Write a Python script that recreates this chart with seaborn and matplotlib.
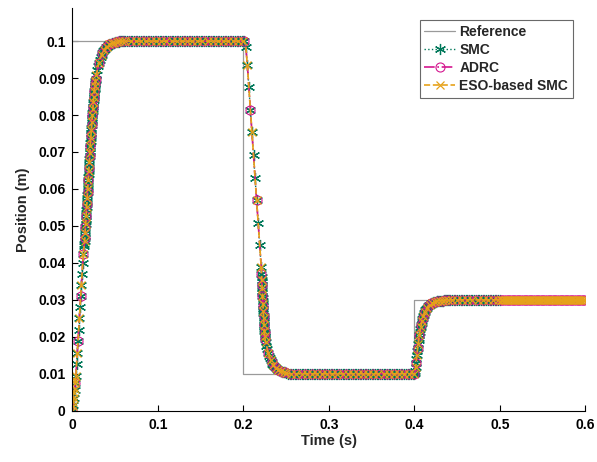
import numpy as np
import pandas as pd
import seaborn as sns
import matplotlib.pyplot as plt

# reference trajectory (s, m)
ref_t = [0.0, 0.2, 0.2, 0.4, 0.4, 0.6]
ref_y = [0.1, 0.1, 0.01, 0.01, 0.03, 0.03]

# closed-loop position
start_t = np.linspace(0.0, 0.0136, 18)
start_y = [0.0, 0.0015, 0.0035, 0.0055, 0.0075, 0.0095, 0.0126, 0.0157, 0.0188,
           0.0219, 0.0250, 0.0280, 0.0310, 0.0340, 0.0370, 0.0400, 0.0425, 0.0445]

rise_t = np.linspace(0.0140, 0.0272, 67)
rise_y = [0.0450, 0.0458, 0.0466, 0.0474, 0.0481, 0.0489, 0.0496, 0.0504, 0.0512,
          0.0520, 0.0528, 0.0536, 0.0544, 0.0552, 0.0560, 0.0568, 0.0576, 0.0584,
          0.0592, 0.0600, 0.0608, 0.0616, 0.0624, 0.0632, 0.0640, 0.0648, 0.0656,
          0.0664, 0.0672, 0.0680, 0.0688, 0.0696, 0.0703, 0.0710, 0.0717, 0.0724,
          0.0731, 0.0738, 0.0745, 0.0752, 0.0759, 0.0766, 0.0773, 0.0780, 0.0786,
          0.0793, 0.0799, 0.0805, 0.0811, 0.0817, 0.0823, 0.0829, 0.0834, 0.0840,
          0.0845, 0.0850, 0.0855, 0.0860, 0.0865, 0.0870, 0.0874, 0.0879, 0.0883,
          0.0887, 0.0891, 0.0895, 0.0898]

settle_t = np.linspace(0.028, 0.060, 33)
settle_y = [0.0907, 0.0921, 0.0932, 0.0942, 0.0950, 0.0957, 0.0963, 0.0968, 0.0973,
            0.0977, 0.0980, 0.0983, 0.0985, 0.0987, 0.0989, 0.0991, 0.0992, 0.0993,
            0.0994, 0.0995, 0.0996, 0.0996, 0.0997, 0.0997, 0.0998, 0.0998, 0.0998,
            0.0999, 0.0999, 0.0999, 0.0999, 0.1000, 0.1000]

hold1_t = np.linspace(0.062, 0.200, 70)
hold1_y = [0.1] * 70

drop_t = np.linspace(0.2010, 0.2208, 12)
drop_y = [0.1000, 0.0985, 0.0935, 0.0875, 0.0814, 0.0753, 0.0692, 0.0631, 0.0570,
          0.0509, 0.0448, 0.0390]

fall_t = np.linspace(0.2211, 0.2253, 29)
fall_y = [0.0370, 0.03625, 0.0355, 0.03475, 0.0340, 0.03325, 0.0325, 0.0318,
          0.0311, 0.0304, 0.0297, 0.0290, 0.0283, 0.02765, 0.0270, 0.02635,
          0.0257, 0.0251, 0.0245, 0.0239, 0.0233, 0.02275, 0.0222, 0.0217,
          0.0212, 0.02075, 0.0203, 0.0199, 0.0195]

decay_t = np.linspace(0.226, 0.250, 25)
decay_y = [0.0187, 0.0176, 0.0166, 0.0157, 0.0149, 0.0142, 0.0136, 0.0131, 0.0127,
           0.0123, 0.0120, 0.0117, 0.0115, 0.0113, 0.0111, 0.0110, 0.0109, 0.0108,
           0.0107, 0.0106, 0.0105, 0.0105, 0.0104, 0.0104, 0.0103]

hold2_t = np.linspace(0.252, 0.400, 75)
hold2_y = [0.01] * 75

step_t = np.linspace(0.4005, 0.4120, 24)
step_y = [0.0103, 0.0108, 0.0119, 0.0130, 0.0141, 0.0151, 0.0161, 0.0171, 0.0181,
          0.0190, 0.0198, 0.0206, 0.0213, 0.0220, 0.0226, 0.0232, 0.0238, 0.0243,
          0.0248, 0.0252, 0.0256, 0.0260, 0.0264, 0.0267]

approach_t = np.linspace(0.413, 0.440, 28)
approach_y = [0.0272, 0.0276, 0.0279, 0.0282, 0.0285, 0.0287, 0.0289, 0.0291,
              0.0292, 0.0293, 0.0294, 0.0295, 0.0295, 0.0296, 0.0296, 0.0297,
              0.0297, 0.0297, 0.0298, 0.0298, 0.0298, 0.0298, 0.0299, 0.0299,
              0.0299, 0.0299, 0.0299, 0.0299]

hold3_t = np.linspace(0.442, 0.500, 30)
hold3_y = [0.03] * 30

# ADRC / ESO runs are logged more finely after 0.5 s
tail_t = np.linspace(0.5005, 0.600, 200)
tail_y = [0.03] * 200

# extra ESO samples right after start
eso_head_t = np.linspace(0.0002, 0.0040, 20)
eso_head_y = [0.0004, 0.0009, 0.0014, 0.0019, 0.0024, 0.0029, 0.0034, 0.0039, 0.0044,
              0.0049, 0.0054, 0.0059, 0.0064, 0.0069, 0.0074, 0.0079, 0.0084, 0.0089,
              0.0092, 0.0095]

xtick_vals = [0, 0.1, 0.2, 0.3, 0.4, 0.5, 0.6]
xtick_labels = ["0", "0.1", "0.2", "0.3", "0.4", "0.5", "0.6"]
ytick_vals = [0, 0.01, 0.02, 0.03, 0.04, 0.05, 0.06, 0.07, 0.08, 0.09, 0.1]
ytick_labels = ["0", "0.01", "0.02", "0.03", "0.04", "0.05", "0.06", "0.07", "0.08",
                "0.09", "0.1"]

seg_t = [start_t, rise_t, settle_t, hold1_t, drop_t, fall_t, decay_t, hold2_t,
         step_t, approach_t, hold3_t]
seg_y = [start_y, rise_y, settle_y, hold1_y, drop_y, fall_y, decay_y, hold2_y,
         step_y, approach_y, hold3_y]

smc = pd.DataFrame({"t": np.concatenate(seg_t), "y": np.concatenate(seg_y)})
adrc = pd.DataFrame({"t": np.concatenate(seg_t + [tail_t]),
                     "y": np.concatenate(seg_y + [tail_y])})
eso = pd.DataFrame({"t": np.concatenate(seg_t + [tail_t, eso_head_t]),
                    "y": np.concatenate(seg_y + [tail_y, eso_head_y])})
eso = eso.sort_values("t").reset_index(drop=True)
ref = pd.DataFrame({"t": ref_t, "y": ref_y})

c_ref, c_smc, c_adrc, c_eso = "#9a9a9a", "#00785a", "#d4168f", "#e6a21a"

sns.set_theme(style="white")
plt.rcParams["font.family"] = ["Liberation Sans", "DejaVu Sans"]
plt.rcParams["font.weight"] = "bold"
plt.rcParams["axes.labelweight"] = "bold"

fig = plt.figure(figsize=(5.97, 4.62), dpi=100)
ax = fig.add_axes([0.1214, 0.111, 0.859, 0.872])

sns.lineplot(data=ref, x="t", y="y", ax=ax, color=c_ref, linewidth=0.9,
             estimator=None, sort=False, label="Reference")
sns.lineplot(data=smc, x="t", y="y", ax=ax, color=c_smc, linewidth=1.0,
             linestyle=":", marker=(6, 2, 0), markersize=8,
             markeredgecolor=c_smc, markeredgewidth=0.9,
             estimator=None, sort=False, label="SMC")
sns.lineplot(data=adrc, x="t", y="y", ax=ax, color=c_adrc, linewidth=1.2,
             linestyle="-.", marker="o", markersize=6.5, markerfacecolor="none",
             markeredgecolor=c_adrc, markeredgewidth=0.8, markevery=4,
             estimator=None, sort=False, label="ADRC")
sns.lineplot(data=eso, x="t", y="y", ax=ax, color=c_eso, linewidth=1.2,
             linestyle="--", marker="x", markersize=5.5, markeredgecolor=c_eso,
             markeredgewidth=0.9, markevery=3, estimator=None, sort=False,
             label="ESO-based SMC")

ax.set_xlim(0, 0.6)
ax.set_ylim(0, 0.109)
ax.set_xticks(xtick_vals)
ax.set_xticklabels(xtick_labels)
ax.set_yticks(ytick_vals)
ax.set_yticklabels(ytick_labels)
ax.tick_params(direction="in", length=4, width=0.8, labelsize=10, colors="black",
               pad=5, left=True, bottom=True)
for lab in ax.get_xticklabels() + ax.get_yticklabels():
    lab.set_fontweight("bold")
ax.spines["top"].set_visible(False)
ax.spines["right"].set_visible(False)
for s in ["left", "bottom"]:
    ax.spines[s].set_color("black")
    ax.spines[s].set_linewidth(0.8)

ax.set_xlabel("Time (s)", fontsize=10.5, fontweight="bold", labelpad=2)
ax.set_ylabel("Position (m)", fontsize=10.5, fontweight="bold", labelpad=6)

leg = ax.legend(loc="upper right", bbox_to_anchor=(0.9756, 0.970), borderaxespad=0,
                fontsize=10, frameon=True, fancybox=False, labelspacing=0.3,
                handlelength=2.2, handletextpad=0.3, borderpad=0.35)
leg.get_frame().set_edgecolor("#444444")
leg.get_frame().set_linewidth(0.8)
for txt in leg.get_texts():
    txt.set_fontweight("bold")

fig.savefig("out.png", dpi=100)
